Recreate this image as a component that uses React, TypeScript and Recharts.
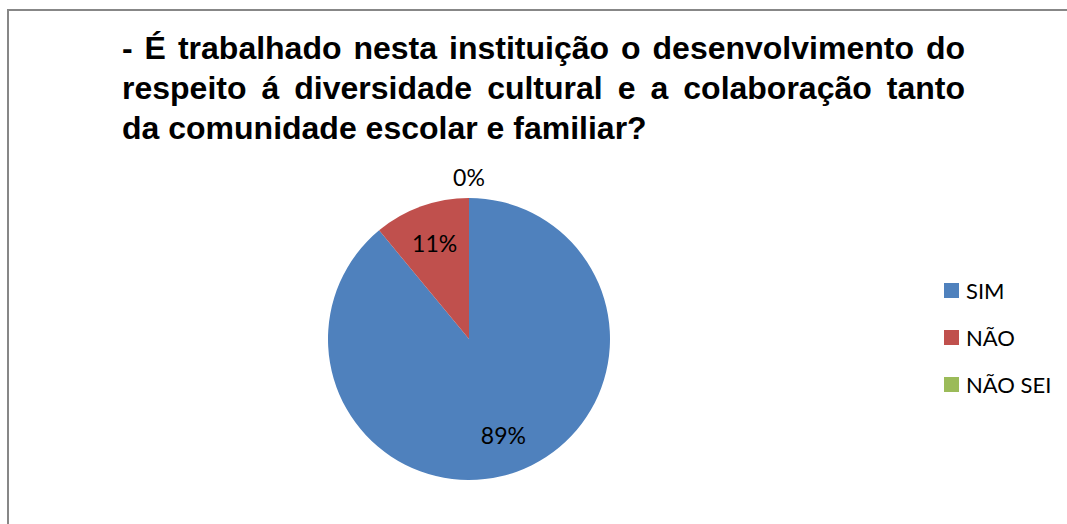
import type { FC } from 'react'
import { Cell, Legend, Pie, PieChart } from 'recharts'

const answers = ['SIM', 'NÃO', 'NÃO SEI']
const shares = [89, 11, 0]
const sliceColors = ['#4F81BD', '#C0504D', '#9BBB59']
const titleLines = [
  '- É trabalhado nesta instituição o desenvolvimento do',
  'respeito á diversidade cultural e a colaboração tanto',
  'da comunidade escolar e familiar?',
]

const pieData = answers.map((name, i) => ({ name, value: shares[i] }))

const RADIAN = Math.PI / 180
const labelFont = 'Lato, "Open Sans", sans-serif'

interface SliceLabelProps {
  cx: number
  cy: number
  midAngle: number
  outerRadius: number
  percent: number
}

const SliceLabel: FC<SliceLabelProps> = ({ cx, cy, midAngle, outerRadius, percent }) => {
  // empty slices get their label outside, the rest sit inside the slice
  const r = percent > 0 ? outerRadius * 0.72 : outerRadius + 21
  const x = cx + r * Math.cos(-midAngle * RADIAN)
  const y = cy + r * Math.sin(-midAngle * RADIAN)
  return (
    <text x={x} y={y} fill="#000" fontSize={23} fontFamily={labelFont} textAnchor="middle" dominantBaseline="central">
      {`${Math.round(percent * 100)}%`}
    </text>
  )
}

const LegendList: FC = () => (
  <div style={{ fontFamily: labelFont, fontSize: 22, color: '#000' }}>
    {answers.map((name, i) => (
      <div key={name} style={{ display: 'flex', alignItems: 'center', height: 47 }}>
        <span style={{ width: 15, height: 15, background: sliceColors[i], marginRight: 7 }} />
        <span>{name}</span>
      </div>
    ))}
  </div>
)

const App: FC = () => (
  <div style={{ position: 'absolute', left: 0, top: 0, width: 1067, height: 524, background: '#fff', overflow: 'hidden' }}>
    <div
      style={{
        position: 'absolute',
        left: 7,
        top: 9,
        width: 1200,
        height: 700,
        borderTop: '2px solid #878787',
        borderLeft: '2px solid #878787',
      }}
    />
    <div
      style={{
        position: 'absolute',
        left: 122,
        top: 28,
        width: 843,
        fontFamily: '"Liberation Sans", Arial, sans-serif',
        fontWeight: 'bold',
        fontSize: 32,
        lineHeight: '40px',
        color: '#000',
      }}>
      {titleLines.map((line, i) => (
        <div
          key={line}
          style={{
            textAlign: 'justify',
            textAlignLast: i < titleLines.length - 1 ? 'justify' : 'left',
            whiteSpace: 'nowrap',
          }}>
          {line}
        </div>
      ))}
    </div>
    <PieChart width={1067} height={524} style={{ position: 'absolute', left: 0, top: 0 }}>
      <Pie
        data={pieData}
        dataKey="value"
        nameKey="name"
        cx={464}
        cy={334}
        outerRadius={141}
        startAngle={90}
        endAngle={-270}
        stroke="none"
        labelLine={false}
        label={SliceLabel}
        isAnimationActive={false}>
        {pieData.map((entry, i) => (
          <Cell key={entry.name} fill={sliceColors[i]} />
        ))}
      </Pie>
      <Legend
        layout="vertical"
        content={<LegendList />}
        wrapperStyle={{ position: 'absolute', left: 944, top: 267, width: 120 }}
      />
    </PieChart>
  </div>
)

export default App
